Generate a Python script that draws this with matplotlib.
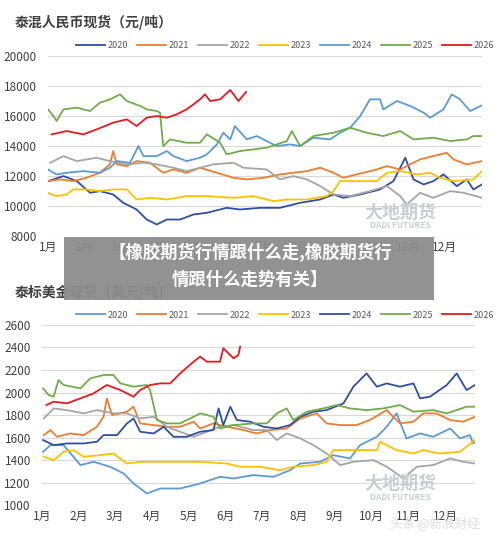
import matplotlib
matplotlib.use("Agg")
import matplotlib.pyplot as plt
from matplotlib.patches import Rectangle

plt.rcParams['font.family'] = ['Noto Sans CJK SC', 'DejaVu Sans']

months = ['1月','2月','3月','4月','5月','6月','7月','8月','9月','10月','11月','12月']
years = ['2020','2021','2022','2023','2024','2025','2026']

# ---- top chart: 泰混人民币现货 (元/吨); x in months since Jan 1
t20_x = [0,0.43,0.8,1.17,1.44,1.81,2.09,2.46,2.74,3.02,3.3,3.67,4.04,4.41,4.96,5.33,5.89,6.44,7.0,7.56,7.93,8.2,8.67,9.22,9.59,9.92,10.15,10.43,10.7,10.98,11.35,11.63,11.81,12.05]
t20_y = [11667,12000,11667,10889,11000,10778,10222,9778,9111,8778,9111,9111,9444,9556,9889,9778,9889,9889,10222,10444,10778,10556,10778,11111,11667,13222,11778,11444,11667,12111,11333,11778,11111,11444]
t21_x = [0,0.33,0.7,1.07,1.44,1.72,1.81,1.91,2.19,2.46,2.83,3.2,3.48,3.85,4.22,4.69,5.15,5.52,5.98,6.44,6.81,7.19,7.56,7.93,8.2,8.57,9.13,9.41,9.78,10.33,10.7,11.07,11.26,11.63,12.05]
t21_y = [11667,11778,11667,11889,12222,12778,13667,12778,12667,13000,12889,12222,12444,12222,12556,12222,11889,11778,11889,12111,12222,12333,12556,12222,11889,12111,12444,12667,12444,13111,13333,13556,13111,12778,13000]
t22_x = [0.06,0.43,0.8,1.35,1.72,2.19,2.65,3.02,3.48,3.85,4.22,4.59,5.15,5.43,6.07,6.44,6.81,7.19,7.56,7.93,8.39,8.94,9.41,9.78,9.96,10.33,10.7,11.17,11.54,12.05]
t22_y = [12889,13333,13000,13222,13000,12778,12889,12778,12556,12333,12556,12778,12889,12556,12444,11778,12000,11778,11333,10778,10667,11000,11333,10667,10111,10889,10556,11000,10889,10556]
t23_x = [0,0.24,0.52,0.7,1.07,1.44,1.81,2.19,2.46,2.83,3.3,3.85,4.41,5.15,5.7,6.26,6.63,7.19,7.74,7.93,8.11,8.67,9.13,9.41,9.78,10.24,10.61,10.89,11.26,11.81,12.05]
t23_y = [10889,10667,10778,11111,11111,11000,11111,11111,10444,10556,10444,10667,10667,10556,10667,10333,10444,10444,10667,11000,11667,11667,11667,12222,12333,12111,12222,11889,11667,11778,12333]
t24_x = [0,0.24,0.52,0.98,1.44,1.72,1.91,2.28,2.51,2.65,3.02,3.3,3.48,3.85,4.22,4.41,4.69,4.87,5.06,5.19,5.52,5.8,6.07,6.35,6.72,7.0,7.37,7.83,8.11,8.39,8.67,8.94,9.22,9.31,9.69,10.06,10.43,10.61,10.98,11.21,11.44,11.72,12.05]
t24_y = [12444,12111,12222,12333,12222,12556,13000,12889,14000,13333,13333,13667,13333,13000,13222,13444,14111,14889,14444,15333,14444,14667,14333,14000,14111,14000,14556,14444,14889,15222,16000,17111,17111,16444,17000,16667,16222,15889,16444,17444,17111,16333,16711]
t25_x = [0,0.15,0.24,0.43,0.8,1.17,1.44,1.72,2.0,2.19,2.56,2.74,3.02,3.11,3.2,3.39,3.85,4.22,4.41,4.78,4.96,5.33,5.7,6.07,6.63,6.77,7.0,7.37,7.93,8.39,8.85,9.31,9.78,10.15,10.7,11.17,11.63,11.81,12.05]
t25_y = [16444,16000,15667,16444,16556,16333,16889,17111,17444,17000,16667,16444,16333,16222,14000,14444,14222,14222,14778,14222,13444,13667,13778,13889,14333,15000,14000,14667,14889,15222,14889,14667,15000,14444,14556,14333,14444,14667,14667]
t26_x = [0.1,0.52,0.98,1.35,1.81,2.19,2.46,2.74,3.02,3.3,3.57,3.85,4.04,4.22,4.36,4.5,4.78,5.06,5.29,5.5]
t26_y = [14778,15000,14778,15111,15556,15778,15333,15889,16000,15889,16111,16444,16778,17111,17444,17000,17111,17733,17000,17600]

# ---- bottom chart: 泰标美金现货 (美元/吨)
b20_x = [0.03,0.23,0.59,1.05,1.41,1.86,2.23,2.5,2.86,3.23,3.77,4.32,4.86,5.23,5.77,6.32,6.77,7.05,7.59,7.95,8.41,8.68,9.14,9.41,9.68,9.95,10.32,10.68,11.14,11.41,11.68,11.77,11.82]
b20_y = [1474,1533,1533,1356,1385,1341,1281,1193,1104,1148,1148,1193,1252,1237,1267,1252,1311,1370,1385,1444,1415,1533,1607,1696,1815,1593,1637,1607,1681,1593,1622,1548,1563]
b21_x = [0.05,0.23,0.41,0.77,1.14,1.5,1.68,1.77,1.91,2.32,2.5,2.68,3.05,3.41,3.77,4.14,4.32,4.68,5.05,5.5,5.86,6.23,6.68,7.05,7.5,7.77,8.14,8.59,8.95,9.41,9.77,10.14,10.41,10.77,11.14,11.5,11.82]
b21_y = [1622,1667,1607,1637,1622,1696,1785,1948,1800,1830,1874,1726,1711,1696,1696,1741,1681,1726,1696,1667,1637,1667,1681,1770,1815,1726,1711,1711,1756,1844,1726,1741,1815,1815,1756,1741,1785]
b22_x = [0.05,0.32,0.68,1.14,1.5,1.95,2.32,2.68,3.05,3.41,3.77,4.14,4.5,4.86,5.23,5.77,6.14,6.41,6.68,7.05,7.41,7.77,8.14,8.5,9.05,9.41,9.68,9.86,10.23,10.68,11.14,11.5,11.82]
b22_y = [1770,1859,1844,1815,1844,1815,1815,1770,1785,1696,1652,1607,1652,1696,1711,1667,1667,1578,1637,1593,1533,1459,1356,1385,1400,1341,1281,1237,1341,1356,1415,1385,1370]
b23_x = [0.05,0.32,0.59,0.86,1.14,1.59,1.95,2.32,2.68,3.23,3.77,4.32,5.05,5.41,5.95,6.5,6.86,7.41,7.77,7.95,8.5,9.14,9.23,9.68,10.14,10.41,10.86,11.41,11.82]
b23_y = [1430,1400,1474,1489,1430,1444,1459,1370,1385,1385,1385,1385,1370,1341,1341,1311,1341,1356,1385,1489,1489,1489,1563,1489,1459,1489,1459,1474,1578]
b24_x = [0.03,0.32,0.68,1.14,1.5,1.68,2.05,2.32,2.5,2.68,3.05,3.32,3.59,3.95,4.32,4.68,4.82,4.95,5.14,5.32,5.68,6.05,6.41,6.77,7.05,7.41,7.77,8.23,8.5,8.86,9.14,9.41,9.77,10.14,10.32,10.59,11.05,11.32,11.59,11.82]
b24_y = [1578,1533,1548,1548,1563,1622,1622,1726,1770,1652,1637,1696,1607,1607,1652,1667,1859,1711,1874,1756,1741,1696,1681,1711,1785,1830,1844,1904,2052,2170,2052,2081,2052,2081,1948,1963,2067,2170,2022,2067]
b25_x = [0.03,0.18,0.32,0.45,0.59,1.05,1.32,1.68,1.95,2.14,2.5,2.86,2.95,3.14,3.41,3.77,4.14,4.32,4.68,4.86,5.23,5.77,6.14,6.41,6.68,6.86,7.23,7.68,8.05,8.41,8.86,9.32,9.77,10.14,10.68,11.05,11.59,11.82]
b25_y = [2037,1978,1963,2111,2067,2037,2126,2156,2156,2081,2052,2067,2022,1756,1726,1726,1785,1815,1785,1681,1711,1726,1726,1815,1859,1756,1830,1859,1889,1859,1844,1859,1889,1830,1844,1815,1874,1874]
b26_x = [0.12,0.32,0.68,1.05,1.41,1.77,2.14,2.5,2.68,2.95,3.23,3.5,3.77,4.14,4.32,4.5,4.86,4.95,5.23,5.36,5.41]
b26_y = [1889,1919,1904,1948,1993,2067,2022,1963,2022,2067,2081,2081,2170,2274,2319,2274,2274,2393,2304,2333,2407]

top_colors = ['#2F4FA5', '#ED7D31', '#A5A5A5', '#FFC000', '#5B9BD5', '#70AD47', '#E8191E']
bot_colors = ['#5B9BD5', '#ED7D31', '#A5A5A5', '#FFC000', '#2F4FA5', '#70AD47', '#E8191E']

fig = plt.figure(figsize=(5, 5.38), dpi=100)

def draw(ax, series, colors, yticks, xmax):
    for (x, y), c, lab in zip(series, colors, years):
        ax.plot(x, y, color=c, lw=1.3, label=lab)
    ax.set_xlim(0, xmax)
    ax.set_ylim(yticks[0], yticks[-1])
    ax.set_yticks(yticks)
    ax.set_xticks(range(12))
    ax.set_xticklabels(months)
    ax.grid(axis='y', color='#D9D9D9', lw=0.8)
    ax.set_axisbelow(True)
    for s in ax.spines.values():
        s.set_visible(False)
    ax.tick_params(length=0, labelsize=8.5, colors='#404040')
    ax.tick_params(axis='y', pad=8)

ax1 = fig.add_axes([0.096, 0.561, 0.868, 0.335])
draw(ax1, [(t20_x,t20_y),(t21_x,t21_y),(t22_x,t22_y),(t23_x,t23_y),(t24_x,t24_y),(t25_x,t25_y),(t26_x,t26_y)],
     top_colors, [8000,10000,12000,14000,16000,18000,20000], 12.05)
ax2 = fig.add_axes([0.084, 0.061, 0.866, 0.335])
draw(ax2, [(b20_x,b20_y),(b21_x,b21_y),(b22_x,b22_y),(b23_x,b23_y),(b24_x,b24_y),(b25_x,b25_y),(b26_x,b26_y)],
     bot_colors, [1000,1200,1400,1600,1800,2000,2200,2400,2600], 11.82)

for ax, yb in [(ax1, 1-46/538), (ax2, 1-315/538)]:
    h, l = ax.get_legend_handles_labels()
    fig.legend(h, l, loc='center', bbox_to_anchor=(0.57, yb), ncol=7, frameon=False,
               fontsize=6.5, handlelength=3.2, columnspacing=1.0, handletextpad=0.3,
               labelcolor='#595959')

fig.text(0.03, 1-22/538, '泰混人民币现货（元/吨）', fontsize=10, color='#404040', va='center', weight='bold')
fig.text(0.03, 1-292/538, '泰标美金现货（美元/吨）', fontsize=10, color='#404040', va='center', weight='bold')

# watermarks
fig.text(0.8, 1-212/538, '大地期货', fontsize=13, color='#C9CDD6', ha='center', va='center', weight='bold')
fig.text(0.8, 1-226/538, 'DADI FUTURES', fontsize=6, color='#C9CDD6', ha='center', va='center', weight='bold')
fig.text(0.8, 1-483/538, '大地期货', fontsize=13, color='#C9CDD6', ha='center', va='center', weight='bold')
fig.text(0.8, 1-497/538, 'DADI FUTURES', fontsize=6, color='#C9CDD6', ha='center', va='center', weight='bold')
fig.text(0.87, 1-523/538, '头条 @新浪财经', fontsize=9, color='#DDDDDD', ha='center', va='center')

# banner overlay
fig.patches.append(Rectangle((64/500, 1-300/538), 370/500, 63/538, transform=fig.transFigure,
                             facecolor='#8C8C8C', alpha=0.95, edgecolor='none', zorder=5))
fig.text(0.5, 1-252/538, '【橡胶期货行情跟什么走,橡胶期货行', fontsize=12.5, color='white',
         ha='center', va='center', weight='bold', zorder=6)
fig.text(0.5, 1-280/538, '情跟什么走势有关】', fontsize=12.5, color='white',
         ha='center', va='center', weight='bold', zorder=6)

fig.savefig('out.png', dpi=100)
